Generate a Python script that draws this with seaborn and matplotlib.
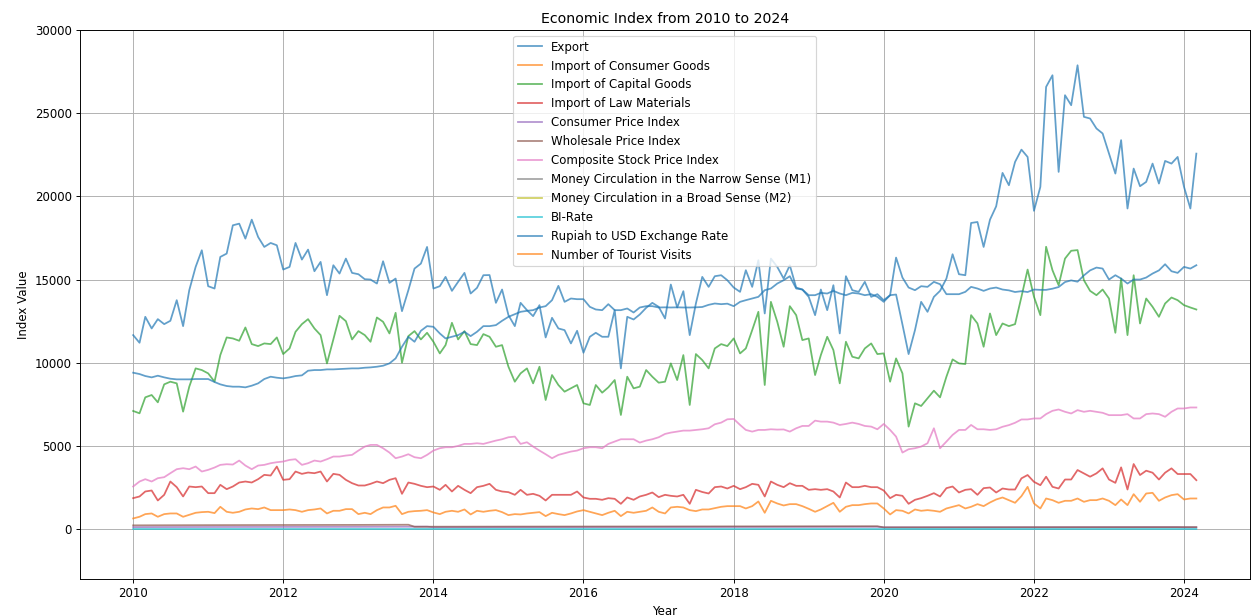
import matplotlib
matplotlib.use("Agg")
import matplotlib.pyplot as plt
import numpy as np
import pandas as pd
import seaborn as sns

# Monthly observations, January 2010 to March 2024
months = pd.date_range("2010-01-01", "2024-03-01", freq="MS")

export = [
    11660, 11200, 12760, 12060, 12620, 12320, 12520, 13760, 12200, 14360, 15760, 16760,
    14600, 14460, 16360, 16560, 18260, 18360, 17460, 18600, 17560, 16960, 17200, 17060,
    15600, 15760, 17200, 16200, 16800, 15500, 16060, 14060, 15860, 15360, 16260, 15400,
    15320, 15020, 15000, 14760, 16100, 14800, 15060, 13100, 14360, 15660, 15960, 16960,
    14460, 14600, 15160, 14320, 14860, 15400, 14160, 14500, 15260, 15270, 13600, 14400,
    12860, 12200, 13600, 13160, 12800, 13460, 11520, 12700, 12060, 11960, 11160, 11920,
    10600, 11560, 11800, 11560, 11560, 13160, 9660, 12760, 12600, 12900, 13300, 13600,
    13360, 12660, 14700, 13320, 14300, 11660, 13560, 15160, 14560, 15200, 15260, 14960,
    14520, 14260, 15560, 14560, 16160, 12960, 16260, 15760, 15060, 15860, 14520, 14400,
    13960, 12860, 14400, 13160, 14660, 11760, 15200, 14360, 14260, 14860, 13960, 14120,
    13760, 14060, 14100, 12300, 10520, 11960, 13660, 13060, 13960, 14320, 15060, 16520,
    15320, 15260, 18400, 18460, 16960, 18600, 19400, 21410, 20670, 22070, 22810, 22370,
    19130, 20570, 26580, 27280, 21470, 26080, 25480, 27880, 24780, 24680, 24080, 23780,
    22570, 21370, 23380, 19270, 21670, 20610, 20870, 21970, 20770, 22130, 21970, 22370,
    20570, 19270, 22570,
]

import_consumer = [
    640, 740, 900, 940, 740, 900, 940, 940, 740, 860, 980, 1020,
    1040, 960, 1340, 1040, 980, 1040, 1180, 1240, 1200, 1300, 1140, 1140,
    1140, 1180, 1140, 1040, 1140, 1180, 1240, 940, 1100, 1100, 1200, 1200,
    900, 980, 900, 1140, 1300, 1300, 1400, 900, 1040, 1080, 1100, 1140,
    1000, 900, 1040, 1100, 1040, 1180, 880, 1100, 1040, 1100, 1140, 1020,
    840, 900, 880, 940, 980, 1020, 780, 980, 900, 840, 940, 1060,
    1140, 1040, 940, 840, 980, 1100, 780, 1040, 980, 1040, 1100, 1300,
    1040, 940, 1300, 1340, 1300, 1140, 1080, 1180, 1180, 1260, 1340, 1380,
    1380, 1380, 1240, 1380, 1660, 980, 1700, 1540, 1420, 1500, 1500, 1380,
    1220, 1040, 1180, 1380, 1580, 1040, 1340, 1440, 1440, 1500, 1540, 1540,
    1240, 880, 1140, 1100, 940, 1180, 1100, 1140, 1100, 1040, 1240, 1340,
    1440, 1240, 1340, 1500, 1380, 1600, 1780, 1900, 1740, 1580, 1980, 2540,
    1540, 1240, 1840, 1740, 1580, 1700, 1700, 1840, 1640, 1740, 1740, 1840,
    1700, 1440, 1780, 1440, 2100, 1640, 2140, 2180, 1700, 1900, 2040, 2100,
    1780, 1840, 1840,
]

import_capital = [
    7100, 6960, 7920, 8060, 7620, 8700, 8860, 8760, 7060, 8560, 9660, 9560,
    9360, 8860, 10460, 11520, 11460, 11320, 12120, 11120, 11000, 11160, 11120, 11520,
    10520, 10860, 11860, 12320, 12620, 12060, 11660, 9960, 11400, 12820, 12500, 11400,
    11900, 11660, 11260, 12720, 12460, 11760, 13000, 10000, 11600, 11900, 11400, 11800,
    11260, 10560, 11060, 12400, 11400, 11900, 11120, 11060, 11720, 11560, 10960, 11060,
    9760, 8860, 9360, 9660, 8760, 9760, 7760, 9260, 8660, 8260, 8460, 8660,
    7560, 7460, 8660, 8200, 8520, 8960, 6860, 9160, 8460, 8560, 9560, 9160,
    8800, 8860, 9960, 8960, 10460, 7460, 10520, 10160, 9660, 10860, 11120, 11000,
    11460, 10560, 10860, 11960, 13060, 8660, 13660, 12460, 10960, 13400, 12860, 11360,
    11460, 9260, 10460, 11560, 10760, 8760, 11260, 10360, 10260, 10860, 11160, 10520,
    10560, 8860, 10260, 9360, 6160, 7560, 7400, 7860, 8320, 7920, 9160, 10200,
    9960, 9920, 12860, 12360, 10960, 12960, 11660, 12360, 12200, 12320, 13960, 15600,
    13960, 12860, 16970, 15560, 14660, 16260, 16730, 16770, 14960, 14320, 14060, 14400,
    13860, 11800, 15060, 11660, 15260, 12360, 13860, 13360, 12760, 13560, 13920, 13760,
    13460, 13320, 13200,
]

import_materials = [
    1860, 1960, 2260, 2320, 1720, 2060, 2860, 2520, 1960, 2560, 2520, 2560,
    2160, 2160, 2660, 2400, 2560, 2800, 2860, 2800, 3000, 3260, 3220, 3760,
    2960, 3000, 3460, 3320, 3400, 3360, 3460, 2860, 3320, 3260, 2960, 2760,
    2620, 2620, 2720, 2860, 2760, 2960, 3060, 2120, 2800, 2720, 2600, 2520,
    2560, 2360, 2660, 2260, 2600, 2360, 2160, 2520, 2600, 2720, 2360, 2260,
    2220, 2060, 2360, 2060, 2120, 2000, 1720, 2060, 2060, 2060, 2060, 2260,
    1900, 1820, 1820, 1760, 1860, 1820, 1520, 1900, 1760, 1960, 2060, 2200,
    1920, 2060, 2000, 1960, 2060, 1520, 2360, 2230, 2140, 2520, 2560, 2440,
    2600, 2400, 2520, 2720, 2660, 1960, 2860, 2660, 2520, 2760, 2600, 2600,
    2360, 2400, 2360, 2400, 2260, 1900, 2800, 2520, 2520, 2600, 2520, 2520,
    2320, 1860, 2060, 2000, 1520, 1760, 1860, 2000, 2160, 1960, 2460, 2560,
    2200, 2360, 2400, 2060, 2460, 2500, 2200, 2440, 2380, 2380, 3050, 3250,
    2840, 2640, 3150, 2540, 2440, 2980, 2980, 3550, 3350, 3150, 3350, 3650,
    2980, 2780, 3710, 2380, 3910, 3250, 3510, 3390, 2980, 3390, 3650, 3310,
    3310, 3310, 2940,
]

stock_index = [
    2560, 2860, 3000, 2860, 3060, 3120, 3360, 3600, 3660, 3600, 3760, 3460,
    3560, 3700, 3860, 3900, 3880, 4120, 3820, 3600, 3820, 3860, 3960, 4020,
    4060, 4160, 4200, 3860, 3960, 4120, 4060, 4200, 4360, 4360, 4420, 4460,
    4720, 4960, 5060, 5060, 4860, 4600, 4260, 4360, 4500, 4320, 4260, 4460,
    4720, 4860, 4920, 4920, 5000, 5120, 5120, 5160, 5120, 5220, 5320, 5400,
    5520, 5560, 5120, 5220, 4960, 4720, 4500, 4260, 4460, 4560, 4660, 4720,
    4860, 4920, 4920, 4860, 5120, 5260, 5400, 5400, 5400, 5200, 5320, 5400,
    5520, 5720, 5800, 5860, 5920, 5920, 5960, 6000, 6060, 6300, 6400, 6600,
    6620, 6260, 5960, 5860, 5960, 5960, 6000, 5980, 5990, 5860, 6060, 6200,
    6200, 6520, 6460, 6460, 6400, 6260, 6320, 6400, 6320, 6200, 6160, 6000,
    6320, 5960, 5560, 4600, 4800, 4860, 4960, 5160, 6060, 4860, 5260, 5660,
    5960, 5960, 6260, 6000, 6000, 5960, 6000, 6150, 6250, 6390, 6590, 6590,
    6650, 6650, 6910, 7110, 7190, 7050, 6950, 7150, 7050, 7110, 7050, 6990,
    6850, 6850, 6850, 6910, 6650, 6650, 6910, 6950, 6910, 6750, 7050, 7250,
    7250, 7310, 7310,
]

rupiah_usd = [
    9400, 9320, 9200, 9120, 9220, 9120, 9040, 9000, 9000, 9000, 9020, 9020,
    9020, 8840, 8700, 8600, 8560, 8560, 8520, 8620, 8760, 9020, 9160, 9100,
    9060, 9120, 9200, 9240, 9520, 9560, 9560, 9600, 9600, 9620, 9640, 9660,
    9660, 9700, 9720, 9760, 9820, 9960, 10260, 10960, 11560, 11260, 11920, 12200,
    12160, 11760, 11460, 11560, 11660, 11860, 11600, 11860, 12200, 12200, 12260, 12520,
    12760, 12920, 13060, 13120, 13160, 13320, 13400, 13760, 14620, 13660, 13860, 13820,
    13820, 13360, 13200, 13160, 13520, 13160, 13160, 13260, 13020, 13320, 13400, 13400,
    13320, 13330, 13320, 13330, 13320, 13320, 13330, 13350, 13480, 13560, 13520, 13550,
    13400, 13660, 13760, 13860, 13960, 14360, 14460, 14760, 14960, 15200, 14460, 14400,
    14060, 14060, 14200, 14160, 14320, 14160, 14060, 14200, 14160, 14060, 14120, 13960,
    13660, 14060, 16320, 15120, 14520, 14360, 14600, 14560, 14860, 14720, 14120, 14120,
    14120, 14260, 14560, 14460, 14320, 14460, 14520, 14400, 14350, 14250, 14300, 14250,
    14400, 14380, 14380, 14450, 14550, 14850, 14950, 14870, 15250, 15550, 15720, 15660,
    15000, 15260, 15060, 14760, 15000, 15000, 15120, 15360, 15550, 15920, 15500, 15400,
    15760, 15660, 15860,
]

# Lower-frequency indicators, each with its own observation dates
cpi_dates = ["2010-01-01", "2011-01-01", "2012-01-01", "2013-01-01", "2013-12-01",
             "2014-01-01", "2015-01-01", "2016-01-01", "2017-01-01", "2018-01-01",
             "2019-01-01", "2019-12-01", "2020-01-01", "2021-01-01", "2022-01-01",
             "2023-01-01", "2023-12-01", "2024-01-01", "2024-03-01"]
cpi = [118, 127, 131, 136, 146, 110, 118, 123, 127, 131, 135, 139, 105, 106, 107,
       114, 116, 105, 106]

wpi_dates = ["2010-01-01", "2011-01-01", "2012-01-01", "2013-01-01", "2013-09-01",
             "2013-10-01", "2015-01-01", "2017-01-01", "2019-01-01", "2019-12-01",
             "2020-01-01", "2022-01-01", "2024-03-01"]
wpi = [225, 238, 246, 252, 262, 142, 150, 158, 168, 172, 102, 112, 118]

money_dates = ["2010-01-01", "2011-01-01", "2012-01-01", "2013-01-01", "2014-01-01",
               "2015-01-01", "2016-01-01", "2017-01-01", "2018-01-01", "2019-01-01",
               "2020-01-01", "2021-01-01", "2022-01-01", "2023-01-01", "2024-01-01",
               "2024-03-01"]
money_m1 = [580000, 640000, 720000, 830000, 860000, 930000, 1050000, 1220000, 1300000,
            1380000, 1500000, 1850000, 2250000, 2450000, 2500000, 2600000]
money_m2 = [2070000, 2440000, 2850000, 3270000, 3650000, 4170000, 4500000, 4940000,
            5350000, 5640000, 6050000, 6760000, 7650000, 8270000, 8720000, 8890000]

bi_rate_dates = ["2010-01-01", "2011-02-01", "2011-10-01", "2011-11-01", "2012-02-01",
                 "2013-06-01", "2013-09-01", "2013-11-01", "2014-11-01", "2015-02-01",
                 "2016-01-01", "2016-04-01", "2016-10-01", "2017-09-01", "2018-06-01",
                 "2018-11-01", "2019-07-01", "2019-10-01", "2020-03-01", "2020-11-01",
                 "2021-02-01", "2022-08-01", "2022-12-01", "2023-01-01", "2023-10-01",
                 "2024-03-01"]
bi_rate = [6.5, 6.75, 6.5, 6.0, 5.75, 6.0, 7.25, 7.5, 7.75, 7.5, 7.25, 5.5, 4.75, 4.25,
           5.25, 6.0, 5.75, 5.0, 4.5, 3.75, 3.5, 3.75, 5.5, 5.75, 6.0, 6.0]

tourist_dates = ["2010-01-01", "2011-01-01", "2012-01-01", "2013-01-01", "2014-01-01",
                 "2015-01-01", "2016-01-01", "2017-01-01", "2018-01-01", "2019-01-01",
                 "2020-01-01", "2020-04-01", "2021-01-01", "2022-01-01", "2023-01-01",
                 "2024-01-01", "2024-03-01"]
tourists = [530000, 560000, 650000, 710000, 750000, 730000, 810000, 1030000, 1100000,
            1200000, 1270000, 160000, 140000, 140000, 730000, 810000, 890000]

series = [
    ("Export", months, export),
    ("Import of Consumer Goods", months, import_consumer),
    ("Import of Capital Goods", months, import_capital),
    ("Import of Law Materials", months, import_materials),
    ("Consumer Price Index", pd.to_datetime(cpi_dates), cpi),
    ("Wholesale Price Index", pd.to_datetime(wpi_dates), wpi),
    ("Composite Stock Price Index", months, stock_index),
    ("Money Circulation in the Narrow Sense (M1)", pd.to_datetime(money_dates), money_m1),
    ("Money Circulation in a Broad Sense (M2)", pd.to_datetime(money_dates), money_m2),
    ("BI-Rate", pd.to_datetime(bi_rate_dates), bi_rate),
    ("Rupiah to USD Exchange Rate", months, rupiah_usd),
    ("Number of Tourist Visits", pd.to_datetime(tourist_dates), tourists),
]

colors = list(plt.get_cmap("tab10").colors)

fig, ax = plt.subplots(figsize=(1251 / 85, 616 / 85), dpi=85)
fig.subplots_adjust(left=80 / 1251, right=1249.5 / 1251, top=1 - 30 / 616, bottom=1 - 579 / 616)

for i, (name, x, y) in enumerate(series):
    sns.lineplot(x=x, y=np.asarray(y, dtype=float), ax=ax, color=colors[i % 10],
                 alpha=0.7, label=name)

ax.set_ylim(-3000, 30000)
ax.grid(True)
ax.set_title("Economic Index from 2010 to 2024")
ax.set_xlabel("Year")
ax.set_ylabel("Index Value")
ax.legend(loc="upper center")

fig.savefig("out.png", dpi=85)
